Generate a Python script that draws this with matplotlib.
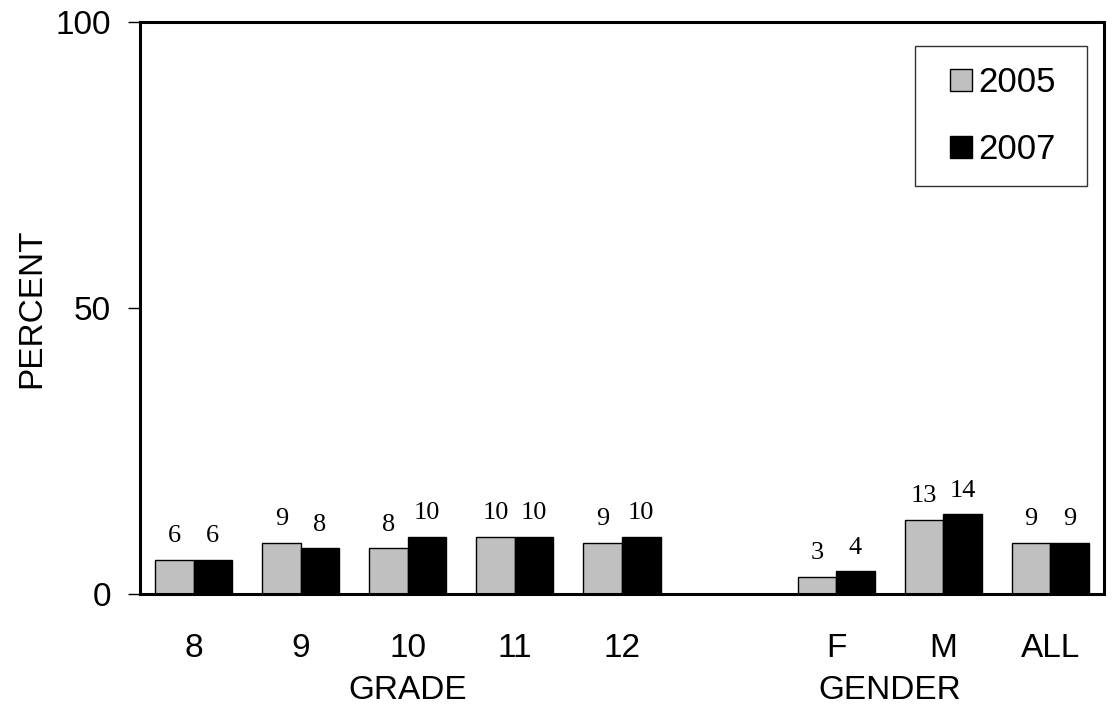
import matplotlib
matplotlib.use("Agg")
import matplotlib.pyplot as plt
import numpy as np
from matplotlib.lines import Line2D
from matplotlib.transforms import blended_transform_factory

categories = ["8", "9", "10", "11", "12", "", "F", "M", "ALL"]
values_2005 = [6, 9, 8, 10, 9, None, 3, 13, 9]
values_2007 = [6, 8, 10, 10, 10, None, 4, 14, 9]
series_names = ["2005", "2007"]
series_colors = ["#C0C0C0", "black"]
group_labels = ["GRADE", "GENDER"]
group_spans = [(0, 4), (5, 8)]
y_ticks = [0, 50, 100]

plt.rcParams['font.family'] = ['Liberation Sans', 'DejaVu Sans']

fig = plt.figure(figsize=(11.12, 7.10), dpi=100)
ax = fig.add_axes([140/1112, 1 - 594/710, (1104-140)/1112, (594-22)/710])

x = np.arange(len(categories))
w = 0.36
v05 = [np.nan if v is None else v for v in values_2005]
v07 = [np.nan if v is None else v for v in values_2007]
ax.bar(x - w/2, v05, w, color=series_colors[0], edgecolor="black", linewidth=1.0)
ax.bar(x + w/2, v07, w, color=series_colors[1], edgecolor="black", linewidth=1.0)

for xs, vals in ((x - w/2, values_2005), (x + w/2, values_2007)):
    for xi, v in zip(xs, vals):
        if v is None:
            continue
        ax.annotate(f"{v}", (xi, v), xytext=(0, 12.5), textcoords="offset points",
                    ha="center", va="baseline", fontsize=19, family="Liberation Serif")

ax.set_xlim(-0.5, len(categories) - 0.5)
ax.set_ylim(0, 100)
ax.set_yticks(y_ticks)
ax.set_xticks(x)
ax.set_xticklabels(categories)
ax.tick_params(axis="x", length=0, pad=28, labelsize=24)
ax.tick_params(axis="y", length=9, width=1, direction="out", pad=12, labelsize=24)
for s in ax.spines.values():
    s.set_linewidth(2.2)
ax.set_ylabel("PERCENT", fontsize=24, labelpad=6)

trans = blended_transform_factory(ax.transData, ax.transAxes)
for lab, (a, b) in zip(group_labels, group_spans):
    ax.text((a + b) / 2, -0.168, lab, transform=trans, ha="center", va="center", fontsize=24)

handles = [Line2D([], [], linestyle="none", marker="s", markersize=15.8,
                  markerfacecolor=c, markeredgecolor="black", markeredgewidth=1.0)
           for c in series_colors]
leg = ax.legend(handles, series_names, loc="upper left",
                bbox_to_anchor=(0.804, 0.958, 0.1784, 0), mode="expand",
                fontsize=25, frameon=True, fancybox=False, shadow=False,
                handlelength=1.5, handletextpad=-0.26, labelspacing=0.98,
                borderpad=0.58, borderaxespad=0)
leg.get_frame().set_edgecolor("black")
leg.get_frame().set_linewidth(1.0)

fig.savefig("out.png", dpi=100)
